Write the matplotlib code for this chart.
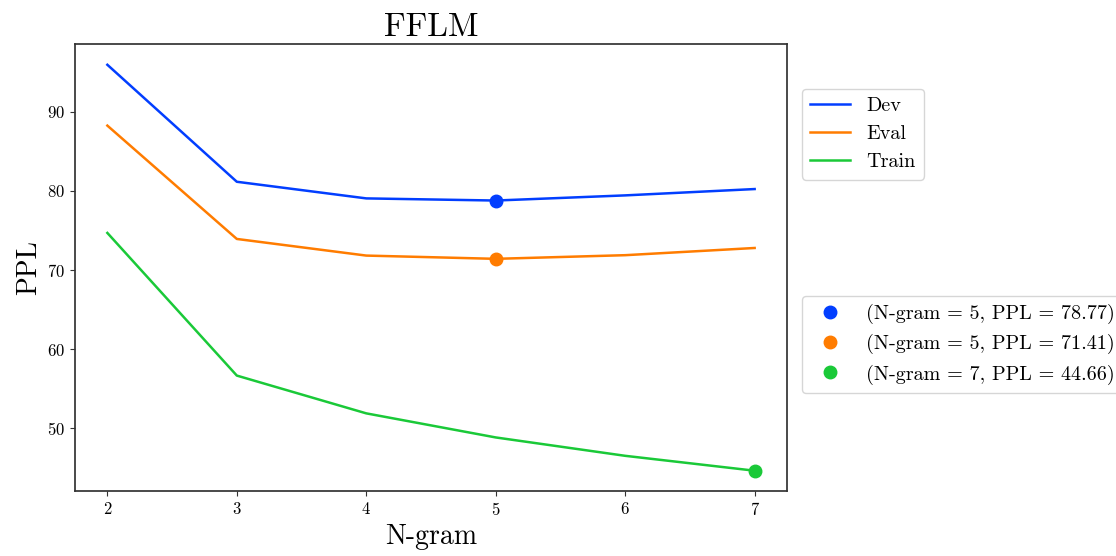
import matplotlib
matplotlib.use('Agg')
import matplotlib.pyplot as plt
from matplotlib.lines import Line2D

plt.rcParams['font.family'] = 'serif'
plt.rcParams['font.serif'] = ['cmr10']
plt.rcParams['mathtext.fontset'] = 'cm'
plt.rcParams['axes.formatter.use_mathtext'] = True

ngram = [2, 3, 4, 5, 6, 7]
dev_ppl = [95.91, 81.14, 79.04, 78.77, 79.42, 80.22]
eval_ppl = [88.23, 73.92, 71.82, 71.41, 71.87, 72.78]
train_ppl = [74.68, 56.67, 51.90, 48.86, 46.54, 44.66]

series = ['Dev', 'Eval', 'Train']
colors = ['#023eff', '#ff7c00', '#1ac938']

fig = plt.figure(figsize=(11.16, 5.56), dpi=100)
ax = fig.add_axes([0.0672, 0.1169, 0.638, 0.8031])

best_handles, best_labels = [], []
for name, ppl, c in zip(series, [dev_ppl, eval_ppl, train_ppl], colors):
    ax.plot(ngram, ppl, color=c, linewidth=1.8, label=name)
    # mark the lowest perplexity on each curve
    i = ppl.index(min(ppl))
    ax.plot(ngram[i], ppl[i], 'o', color=c, markersize=9)
    best_handles.append(Line2D([], [], linestyle='none', marker='o', color=c, markersize=9))
    best_labels.append(f'(N-gram = {ngram[i]}, PPL = {ppl[i]:.2f})')

ax.set_title('FFLM', fontsize=24)
ax.set_xlabel('N-gram', fontsize=20)
ax.set_ylabel('PPL', fontsize=20)
ax.tick_params(labelsize=12, color='0.2')
for s in ax.spines.values():
    s.set_color('0.2')
    s.set_linewidth(1.25)

leg1 = ax.legend(loc='upper left', bbox_to_anchor=(0.7186, 0.84),
                 bbox_transform=fig.transFigure, borderaxespad=0, fontsize=14.5)
ax.add_artist(leg1)
ax.legend(best_handles, best_labels, loc='upper left', bbox_to_anchor=(0.7186, 0.4676),
          bbox_transform=fig.transFigure, borderaxespad=0, fontsize=14.5)

fig.savefig('out.png', dpi=100)
